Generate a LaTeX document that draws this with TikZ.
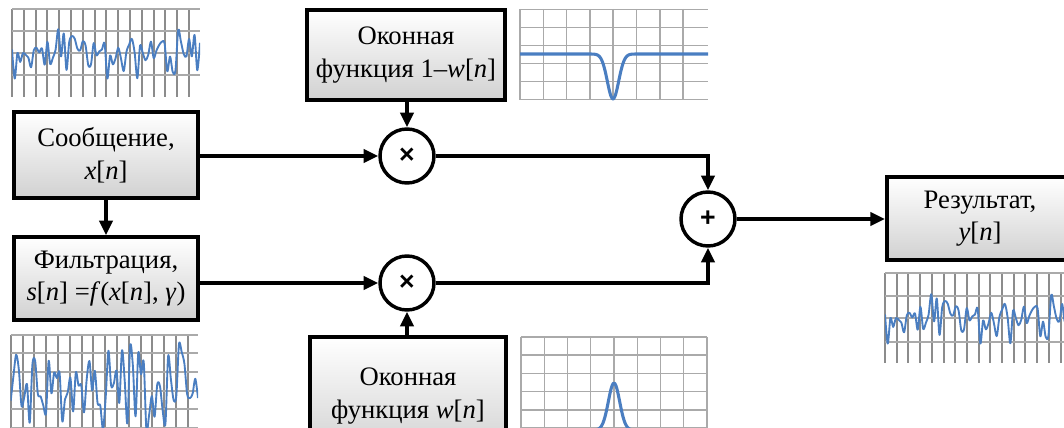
\documentclass[tikz,border=0pt]{standalone}
\usepackage{fontspec}
\setmainfont{Liberation Serif}
\newfontfamily\opfont{Liberation Sans}
\usetikzlibrary{arrows.meta,positioning}
\definecolor{sigblue}{RGB}{74,126,193}
\definecolor{gridd}{RGB}{140,140,140}
\definecolor{gridl}{RGB}{170,170,170}
\tikzset{
  block/.style={rectangle,draw=black,line width=3pt,
    top color=white,bottom color=black!18,
    align=center,inner sep=2pt,font=\fontsize{20}{24.5}\selectfont},
  op/.style={circle,draw=black,line width=2.6pt,fill=white,
    minimum size=40.5pt,inner sep=0pt,font=\opfont\bfseries\fontsize{20}{20}\selectfont},
  link/.style={-{Triangle[length=11pt,width=10pt]},line width=2.5pt},
  gridmaj/.style={draw=gridd,line width=1.5pt},
  gridmin/.style={draw=gridl,line width=1.1pt},
  sig/.style={draw=sigblue,line width=1.4pt,line join=round},
  winsig/.style={draw=sigblue,line width=2.3pt,line join=round},
}

\begin{document}
\begin{tikzpicture}[x=0.75pt,y=-0.75pt]
\useasboundingbox (0,0) rectangle (1064,428);

% --- Blocks ---
\node[block,minimum width=138pt,minimum height=64.5pt] (msg) at (106,155)
  {Сообщение,\\\textit{x}[\textit{n}]};
\node[block,minimum width=138pt,minimum height=62pt] (filt) at (106,278.5)
  {Фильтрация,\\\textit{s}[\textit{n}] =\textit{f}(\textit{x}[\textit{n}], \textit{γ})};
\node[block,minimum width=148.5pt,minimum height=67.5pt] (win1) at (406,55)
  {Оконная\\функция 1–\textit{w}[\textit{n}]};
\node[block,minimum width=147pt,minimum height=88pt] (win2) at (408,396)
  {Оконная\\функция \textit{w}[\textit{n}]};
\node[block,minimum width=139.5pt,minimum height=62pt] (res) at (980,218.5)
  {Результат,\\\textit{y}[\textit{n}]};

% --- Operators ---
\node[op] (m1) at (407,156) {×};
\node[op] (m2) at (407,283) {×};
\node[op] (add) at (708,219) {+};

% --- Connectors ---
\draw[link] (msg) -- (filt);
\draw[link] (m1 -| msg.east) -- (m1);
\draw[link] (m2 -| filt.east) -- (m2);
\draw[link] (win1.south -| m1) -- (m1);
\draw[link] (win2.north -| m2) -- (m2);
\draw[link] (m1) -| (add);
\draw[link] (m2) -| (add);
\draw[link] (add) -- (add -| res.west);

% --- Message signal ---
\begin{scope}
\foreach \k in {0,...,15} \draw[gridmaj] ({12+11.8*\k},9) -- ({12+11.8*\k},97);
\foreach \yy in {9,31,53,75} \draw[gridmin] (12,\yy) -- (200,\yy);
\clip (12,9) rectangle (200,97);
\pgfmathsetseed{7}
\draw[sig] plot[smooth,domain=12:200,samples=70] (\x,{53+15*(rand+rand)});
\end{scope}

% --- Filtered signal ---
\begin{scope}
\foreach \k in {0,...,15} \draw[gridmaj] ({10.7+11.8*\k},335) -- ({10.7+11.8*\k},440);
\foreach \yy in {335,353,372,391,409,428} \draw[gridmin] (10.7,\yy) -- (198,\yy);
\clip (10.7,335) rectangle (198,440);
\pgfmathsetseed{3}
\draw[sig] plot[smooth,domain=10.7:198,samples=70] (\x,{384+25*(rand+rand)});
\end{scope}

% --- Result signal ---
\begin{scope}
\foreach \k in {0,...,15} \draw[gridmaj] ({885+11.7*\k},273) -- ({885+11.7*\k},363);
\foreach \yy in {273,296,318,342} \draw[gridmin] (885,\yy) -- (1073,\yy);
\clip (885,273) rectangle (1073,363);
\pgfmathsetseed{7}
\draw[sig] plot[smooth,domain=885:1073,samples=70] (\x,{318+15*(rand+rand)});
\end{scope}

% --- Window 1-w[n] ---
\begin{scope}
\foreach \k in {0,...,7} \draw[gridmin] ({520+23.3*\k},9) -- ({520+23.3*\k},100);
\foreach \k in {0,...,5} \draw[gridmin] (520,{9.3+18*\k}) -- (708,{9.3+18*\k});
\draw[winsig] plot[domain=520:708,samples=189] (\x,{54+45*exp(-min(((\x-613)/8)^2,20))});
\end{scope}

% --- Window w[n] ---
\begin{scope}
\foreach \k in {0,...,8} \draw[gridmin] ({521+23.25*\k},337) -- ({521+23.25*\k},440);
\foreach \k in {0,...,5} \draw[gridmin] (521,{337+18.2*\k}) -- (707,{337+18.2*\k});
\clip (521,337) rectangle (707,440);
\draw[winsig] plot[domain=521:707,samples=187] (\x,{430-47*exp(-min(((\x-614)/8)^2,20))});
\end{scope}
\end{tikzpicture}
\end{document}
